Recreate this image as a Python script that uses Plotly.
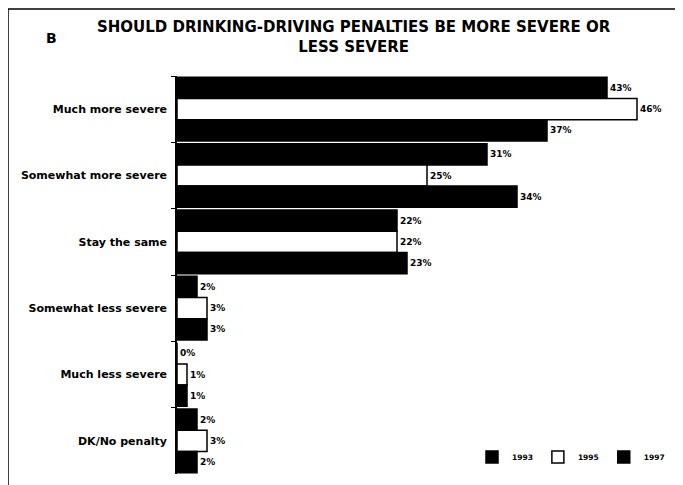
import plotly.graph_objects as go

categories = ["Much more severe", "Somewhat more severe", "Stay the same",
              "Somewhat less severe", "Much less severe", "DK/No penalty"]
years = ["1993", "1995", "1997"]
v1993 = [43, 31, 22, 2, 0, 2]
v1995 = [46, 25, 22, 3, 1, 3]
v1997 = [37, 34, 23, 3, 1, 2]

fills = ["black", "white", "black"]
fnt = dict(family="DejaVu Sans, Liberation Sans, Arial", color="black", weight="bold")

# the page puts the figure 8px in from the top-left corner
OFF = 8
FW, FH = 683 - OFF, 485 - OFF
# plot area in page pixels: x 177..677, y 76..474
L, R, T, B = 177 - OFF, 683 - 677, 76 - OFF, 485 - 474
W, H = FW - L - R, FH - T - B


def px(x):
    return (x - OFF - L) / W


def py(y):
    return (FH - B - (y - OFF)) / H


fig = go.Figure()
for yr, vals, col in zip(years, [v1993, v1995, v1997], fills):
    fig.add_trace(go.Bar(
        y=categories, x=vals, orientation="h", name=yr,
        marker=dict(color=col, line=dict(color="black", width=1.5)),
        text=[f"{v}%" for v in vals], textposition="outside",
        textfont=dict(size=9, **fnt), cliponaxis=False,
    ))

fig.update_layout(
    width=FW, height=FH,
    margin=dict(l=L, r=R, t=T, b=B, autoexpand=False),
    plot_bgcolor="white", paper_bgcolor="white",
    barmode="group", bargap=0.04, bargroupgap=0,
    font=fnt,
    xaxis=dict(range=[0, 50], visible=False),
    yaxis=dict(autorange="reversed", showline=True, linecolor="black", linewidth=1.5,
               ticks="outside", tickson="boundaries", ticklen=4, tickcolor="black",
               tickfont=dict(size=11, **fnt), ticklabelstandoff=6, automargin=False),
    showlegend=True,
    legend=dict(orientation="h", x=px(472), y=py(457), xanchor="left", yanchor="middle",
                font=dict(size=7.5, **fnt), itemwidth=30,
                bgcolor="rgba(0,0,0,0)"),
    annotations=[
        dict(text="B", x=px(44), y=py(28), xref="paper", yref="paper", showarrow=False,
             font=dict(size=14, **fnt)),
        dict(text="SHOULD DRINKING-DRIVING PENALTIES BE MORE SEVERE OR<br>LESS SEVERE",
             x=px(354), y=py(37), xref="paper", yref="paper", yanchor="middle",
             showarrow=False, font=dict(size=15, **fnt)),
    ],
)

# frame lines (left and top)
fig.add_shape(type="line", xref="paper", yref="paper",
              x0=px(8), x1=px(683), y0=py(9), y1=py(9), line=dict(color="black", width=1.5))
fig.add_shape(type="line", xref="paper", yref="paper",
              x0=px(8), x1=px(8), y0=py(485), y1=py(9), line=dict(color="black", width=1.5))

fig.write_html("out.html")
